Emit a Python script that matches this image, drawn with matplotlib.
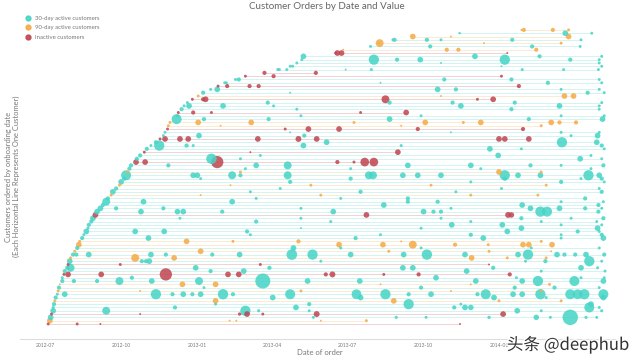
import matplotlib
matplotlib.use('Agg')
import matplotlib.pyplot as plt
import matplotlib.dates as mdates
import matplotlib.patheffects as pe
from matplotlib.lines import Line2D
import pandas as pd

# ---------------- data ----------------
START = '2012-07-01'   # day 0 of order_days
x_range = ('2012-06-01', '2014-05-20')
tick_months = ['2012-07', '2012-10', '2013-01', '2013-04', '2013-07', '2013-10', '2014-01']

legend_labels = ['30-day active customers', '90-day active customers', 'Inactive customers']

# one entry per customer, ordered by onboarding date (bottom -> top)
status = ['in', '90', '30', 'in', '30', '30', '30', '90', '30', '30',
          '90', '30', '90', '30', '30', 'in', '30', '30', 'in', '30',
          '90', '30', '90', '30', '90', '90', '30', '30', '30', '30',
          '30', '30', '30', 'in', '30', '30', '30', '30', '30', '90',
          '30', '30', '90', '30', '30', '30', '90', '30', '30', 'in',
          '30', '30', 'in', '30', '30', '30', 'in', '30', '30', 'in',
          '90', '90', '30', '30', 'in', '30', '30', '30', 'in', '90',
          '30', '30', 'in', '30', '30', 'in', 'in', '30', '30', '30',
          '30', '30', 'in', '90', '30', '90', '30', '90', '30', '90']

order_days = [
    [4, 39, 67, 501],
    [6, 223, 231, 333, 388],
    [7, 324, 424, 460, 536, 593, 610, 634, 653, 666],
    [8, 115, 235, 244, 263, 328, 553],
    [10, 74, 242, 258, 319, 570, 599, 672],
    [10, 157, 303, 494, 507, 514, 657, 669],
    [11, 206, 319, 439, 502, 659],
    [12, 206, 421, 548, 623],
    [13, 275, 381, 542, 605, 674],
    [15, 24, 134, 154, 167, 178, 188, 215, 227, 296, 376, 411, 439, 466, 522, 532, 565, 576, 598, 634, 643, 651, 674],
    [16, 115, 309, 490, 599],
    [17, 192, 454, 567, 615, 669],
    [18, 166, 206, 405, 514, 609],
    [21, 35, 63, 90, 129, 186, 263, 317, 380, 520, 576, 595, 639, 674],
    [21, 105, 472, 569, 647, 675],
    [23, 28, 68, 146, 221, 234, 339, 347, 409, 451, 561],
    [24, 200, 240, 509, 599, 676],
    [27, 31, 182, 271, 432, 444, 541, 647, 667],
    [28, 91, 260, 536],
    [30, 117, 122, 126, 333, 580, 604, 657, 672],
    [31, 109, 156, 515, 558, 605],
    [34, 38, 53, 128, 146, 202, 235, 298, 323, 369, 433, 461, 507, 571, 583, 618, 627, 640, 653, 675],
    [36, 188, 415, 536, 611],
    [39, 300, 357, 454, 587, 669],
    [41, 355, 408, 444, 495, 535, 577, 584, 612],
    [42, 171, 227, 306, 430, 599],
    [45, 125, 375, 529, 623, 674],
    [47, 248, 405, 514, 623, 672],
    [50, 109, 144, 244, 558, 643, 669],
    [52, 309, 454, 575, 667],
    [53, 491, 552, 623, 672],
    [56, 255, 345, 514, 599, 666],
    [58, 163, 309, 478, 575, 635, 674],
    [61, 388, 559, 563],
    [63, 116, 160, 167, 214, 348, 457, 469, 478, 598, 606, 668],
    [67, 86, 143, 309, 490, 586, 621, 652, 672],
    [70, 409, 576, 668],
    [74, 119, 226, 438, 474, 623, 674],
    [76, 255, 357, 438, 652],
    [80, 188, 333, 514, 595],
    [82, 248, 381, 496, 672],
    [86, 284, 551, 669],
    [90, 224, 321, 466, 605],
    [92, 296, 514, 623, 675],
    [96, 188, 369, 555, 647, 672],
    [98, 179, 184, 226, 236, 293, 391, 396, 432, 450, 478, 555, 571, 598, 656, 669],
    [100, 236, 548, 599],
    [102, 242, 369, 526, 659],
    [104, 149, 255, 293, 438, 514, 586, 623, 674],
    [110, 121, 208, 353, 373, 386, 397],
    [111, 201, 236, 646, 672],
    [115, 260, 547, 659],
    [120, 248, 426],
    [123, 537, 575, 675],
    [128, 138, 171, 179, 312, 430, 672],
    [134, 340, 624, 666],
    [139, 145, 163, 173, 257, 306, 328, 548, 555, 584],
    [143, 186, 313, 635, 667],
    [145, 296, 490, 623, 669],
    [148, 290, 318, 355, 450, 577],
    [149, 212, 430, 599],
    [151, 185, 249, 373, 459, 505, 526, 611, 621, 641],
    [159, 192, 270, 416, 584, 673],
    [160, 309, 454, 623, 675],
    [161, 179, 201, 381, 436],
    [165, 304, 563, 669],
    [168, 174, 215, 276, 502, 621, 669],
    [172, 269, 416, 492, 567, 672],
    [178, 191, 194, 411, 522, 541],
    [185, 478, 627, 638],
    [191, 296, 655, 675],
    [200, 208, 474, 496, 623, 669],
    [209, 220, 247, 258, 572],
    [217, 219, 405, 607, 672],
    [230, 234, 482, 563, 669],
    [242, 276, 551],
    [265, 327],
    [281, 283, 292, 363, 394, 576, 626, 668],
    [296, 299, 551, 672],
    [304, 478, 669],
    [310, 397, 425, 453, 555, 634, 669],
    [312, 519, 597, 672],
    [351, 353, 358, 558],
    [360, 485, 499, 593],
    [393, 465, 588, 646],
    [403, 404, 530, 623],
    [420, 422, 461, 478, 564, 647],
    [444, 490, 632],
    [500, 501, 628, 660],
    [575, 578, 613, 632],
]

order_values = [
    [35, 35, 15, 15],
    [130, 15, 15, 15, 35],
    [130, 35, 40, 35, 45, 120, 35, 950, 40, 35],
    [35, 15, 45, 130, 35, 140, 130],
    [130, 250, 420, 40, 35, 130, 35, 40],
    [35, 70, 130, 70, 130, 120, 400, 35],
    [70, 35, 70, 420, 35, 130],
    [35, 130, 130, 35, 35],
    [70, 130, 130, 130, 35, 130],
    [35, 130, 420, 70, 130, 70, 130, 430, 70, 400, 380, 420, 70, 130, 70, 400, 130, 130, 420, 400, 380, 420, 400],
    [35, 15, 35, 15, 35],
    [70, 35, 70, 70, 70, 35],
    [15, 130, 130, 15, 15, 35],
    [70, 70, 70, 250, 130, 250, 900, 130, 130, 130, 130, 420, 400, 130],
    [35, 70, 130, 35, 35, 35],
    [35, 130, 130, 600, 130, 130, 70, 140, 35, 70, 70],
    [70, 70, 130, 130, 35, 35],
    [70, 250, 130, 70, 130, 130, 70, 130, 35],
    [35, 35, 35, 15],
    [130, 70, 70, 130, 35, 35, 70, 420, 35],
    [35, 250, 130, 130, 35, 35],
    [70, 70, 130, 130, 70, 70, 130, 450, 420, 130, 130, 430, 130, 130, 420, 130, 70, 70, 130, 70],
    [35, 130, 35, 35, 15],
    [70, 130, 35, 35, 35, 35],
    [130, 130, 130, 250, 70, 35, 130, 130, 130],
    [35, 130, 35, 70, 15, 35],
    [70, 130, 70, 130, 35, 130],
    [35, 35, 35, 70, 35, 70],
    [130, 130, 130, 70, 130, 70, 35],
    [35, 15, 35, 130, 130],
    [70, 130, 130, 35, 35],
    [70, 70, 35, 35, 35, 35],
    [130, 35, 35, 35, 70, 35, 70],
    [130, 130, 140, 120],
    [130, 130, 130, 130, 70, 130, 130, 70, 70, 420, 400, 70],
    [130, 70, 70, 35, 35, 130, 130, 70, 35],
    [70, 130, 130, 70],
    [250, 130, 130, 70, 70, 35, 35],
    [70, 35, 35, 70, 70],
    [35, 15, 35, 35, 35],
    [130, 35, 70, 35, 70],
    [70, 35, 35, 35],
    [35, 15, 35, 35, 35],
    [130, 70, 35, 70, 35],
    [70, 35, 70, 70, 35, 70],
    [400, 130, 130, 250, 70, 250, 250, 250, 130, 130, 130, 420, 130, 130, 420, 130],
    [35, 35, 130, 35],
    [70, 35, 35, 35, 35],
    [70, 70, 130, 250, 130, 130, 70, 35, 70],
    [130, 130, 600, 70, 35, 300, 300],
    [70, 430, 35, 130, 35],
    [70, 35, 130, 35],
    [35, 15, 130],
    [70, 130, 35, 35],
    [35, 420, 70, 35, 130, 35, 70],
    [70, 130, 420, 130],
    [35, 130, 130, 130, 130, 140, 130, 130, 130, 130],
    [35, 130, 70, 35, 130],
    [35, 15, 15, 35, 35],
    [35, 35, 130, 130, 70, 70],
    [35, 15, 15, 35],
    [35, 130, 130, 35, 130, 35, 130, 130, 70, 70],
    [400, 70, 70, 130, 70, 130],
    [35, 35, 35, 35, 35],
    [35, 70, 35, 35, 130],
    [70, 35, 70, 35],
    [35, 130, 130, 35, 130, 130, 35],
    [35, 70, 70, 70, 70, 35],
    [35, 70, 130, 250, 35, 130],
    [35, 15, 130, 130],
    [70, 15, 70, 35],
    [35, 130, 130, 70, 35, 35],
    [35, 70, 70, 70, 70],
    [35, 35, 15, 70, 35],
    [35, 70, 70, 70, 35],
    [35, 70, 35],
    [70, 70],
    [35, 35, 35, 15, 35, 35, 35, 35],
    [35, 35, 15, 35],
    [35, 15, 35],
    [35, 420, 70, 130, 420, 70, 35],
    [130, 130, 70, 35],
    [35, 130, 130, 15],
    [15, 70, 70, 70],
    [35, 70, 70, 35],
    [15, 250, 15, 35],
    [35, 70, 70, 35, 70, 35],
    [130, 15, 130],
    [15, 15, 130, 35],
    [15, 70, 70, 35],
]

# ---------------- style ----------------
COLORS = {'30': '#45d4c6', '90': '#f4aa45', 'in': '#bf4450'}
SIZE_SCALE = 0.13

plt.rcParams['font.family'] = ['Lato', 'DejaVu Sans']
fig = plt.figure(figsize=(6.4, 3.6), dpi=100)
ax = fig.add_axes([20 / 640, 21 / 360, 595 / 640, 319 / 360])

start = pd.Timestamp(START)
xs, ys, ss, cs = [], [], [], []
for i, (st, days, vals) in enumerate(zip(status, order_days, order_values)):
    dates = mdates.date2num(start + pd.to_timedelta(days, unit='D'))
    ax.plot([dates.min(), dates.max()], [i, i], color=COLORS[st], lw=0.6,
            alpha=0.28, zorder=1, solid_capstyle='butt')
    for d, v in zip(dates, vals):
        xs.append(d)
        ys.append(i)
        ss.append(v * SIZE_SCALE)
        cs.append(COLORS[st])

order = sorted(range(len(ss)), key=lambda k: -ss[k])
ax.scatter([xs[k] for k in order], [ys[k] for k in order],
           s=[ss[k] for k in order], c=[cs[k] for k in order],
           alpha=0.85, linewidths=0, zorder=2)

ax.set_xlim(mdates.date2num(pd.Timestamp(x_range[0])), mdates.date2num(pd.Timestamp(x_range[1])))
ax.set_ylim(-4.55, 92.0)
ax.set_xticks([mdates.date2num(pd.Timestamp(m + '-01')) for m in tick_months])
ax.set_xticklabels(tick_months)
ax.tick_params(axis='x', length=0, labelsize=3.6, labelcolor='#777777', pad=3)
ax.set_yticks([])
for sp in ['top', 'right', 'left']:
    ax.spines[sp].set_visible(False)
ax.spines['bottom'].set_color('#dddddd')
ax.spines['bottom'].set_linewidth(0.8)

fig.text(0.511, 0.981, 'Customer Orders by Date and Value', ha='center', va='center',
         fontsize=7, color='#666666')
fig.text(0.5, 0.022, 'Date of order', ha='center', va='center', fontsize=5.5, color='#777777')
fig.text(0.019, 0.51, 'Customers ordered by onboarding date\n(Each Horizontal Line Represents One Customer)',
         rotation=90, ha='center', va='center', multialignment='center',
         fontsize=5.4, color='#777777', linespacing=1.1)

handles = [Line2D([], [], marker='o', ls='', color=COLORS[k], markersize=3.5, alpha=0.9)
           for k in ['30', '90', 'in']]
leg = fig.legend(handles, legend_labels, loc='upper left', bbox_to_anchor=(0.035, 0.965),
                 frameon=False, fontsize=4.3, labelcolor='#777777', handletextpad=0.6,
                 labelspacing=0.75, borderpad=0, handlelength=1)

wm = fig.text(0.983, 0.042, '头条 @deephub', ha='right', va='center', fontsize=12,
              color='#333333', family=['Noto Sans CJK SC', 'DejaVu Sans'])
wm.set_path_effects([pe.withStroke(linewidth=2, foreground='white')])

fig.savefig('out.png', dpi=100)
